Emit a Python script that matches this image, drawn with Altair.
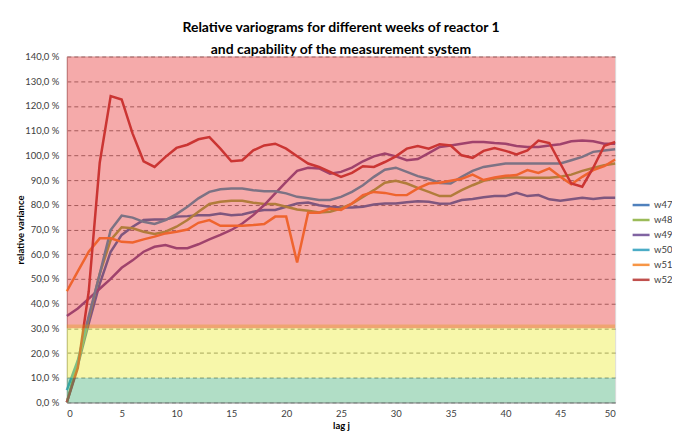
import altair as alt
import pandas as pd

lags = list(range(51))
series_names = ["w47", "w48", "w49", "w50", "w51", "w52"]
series_colors = ["#4F81BD", "#9BBB59", "#8064A2", "#4BACC6", "#F79646", "#C0504D"]

w47 = [0, 15, 32, 48, 61, 67.8, 71.1, 73.8, 74, 74,
       75.2, 75.4, 75.8, 75.8, 76.5, 75.8, 76.1, 77.2, 77.9, 77.9,
       79.2, 80.5, 80.9, 79.8, 79.2, 78.9, 78.9, 79.2, 80.1, 80.5,
       80.5, 81.0, 81.4, 81.2, 80.4, 80.5, 81.9, 82.3, 83.0, 83.5,
       83.5, 84.8, 83.5, 83.9, 82.2, 81.6, 82.2, 82.8, 82.3, 82.8, 82.8]
w48 = [0, 16, 34, 52, 65.8, 70.9, 70.5, 69.1, 68.2, 69.1,
       71.1, 73.8, 77.2, 80.3, 81.2, 81.6, 81.6, 80.8, 80.3, 80.3,
       79.2, 78.1, 77.6, 76.9, 77.2, 78.5, 80.5, 83.2, 85.9, 88.9,
       89.7, 88.6, 86.8, 85.2, 83.5, 83.5, 85.9, 87.9, 89.7, 90.6,
       91.0, 91.0, 90.9, 90.9, 90.9, 91.3, 92.2, 93.7, 94.9, 96.0, 96.7]
w49 = [35, 38, 42, 46, 50, 54.5, 57.5, 61, 63, 63.7,
       62.4, 62.4, 64, 66, 67.8, 69.8, 72.4, 75.8, 79.9, 84.6,
       89.3, 93.7, 95, 94.7, 92.6, 93.3, 95, 97.6, 99.6, 100.7,
       99.6, 98, 98.5, 100.9, 103.4, 104, 104.7, 105.4, 105.4, 105,
       104.7, 103.8, 103.4, 103.4, 104, 104.5, 105.7, 106, 105.7, 104.7, 104.7]
w50 = [5, 17, 35, 52, 69.8, 75.6, 74.8, 73.1, 72.2, 73.8,
       76.2, 79.2, 82.6, 85.2, 86.3, 86.6, 86.6, 85.9, 85.5, 85.5,
       84.6, 83.2, 82.6, 81.9, 81.9, 83.2, 85.2, 87.9, 91.3, 94.2,
       95, 93.3, 91.6, 90.4, 88.8, 88.6, 91.3, 93.7, 95.3, 96,
       96.7, 96.7, 96.7, 96.7, 96.7, 96.7, 98, 99.4, 101.4, 102, 102.5]
w51 = [45, 53, 61, 66.4, 66.4, 65, 64.7, 66, 67.1, 68.4,
       69.1, 70, 72.7, 73.8, 71.5, 71.5, 71.5, 71.8, 72.2, 75.2,
       75.2, 56.6, 76.8, 76.8, 78.5, 77.9, 80.5, 83.9, 85.2, 84.8,
       83.9, 83.9, 86.6, 88.6, 88.9, 89.7, 90.5, 92.2, 90, 91,
       91.7, 92, 94, 92.9, 94.7, 91.3, 88.3, 91.3, 94, 95.6, 98.3]
w52 = [0, 14, 45, 97, 124, 122.6, 108.8, 97.6, 95.3, 99.4,
       103, 104.3, 106.5, 107.4, 102.7, 97.6, 98, 102, 104, 104.7,
       102.7, 99.6, 96.7, 95.3, 93.3, 91.3, 92.9, 95.6, 95.3, 97.3,
       99.6, 102.7, 103.8, 102.7, 104.5, 104, 100, 99, 101.8, 103,
       101.8, 100.4, 102, 106, 105, 96.7, 88.6, 87.3, 95, 103.8, 105.4]

# capability zones of the measurement system (relative variance, %)
band_lo = [0, 10, 30]
band_hi = [10, 31.5, 140]
band_colors = ["#149B55", "#E6E600", "#E10000"]

y_ticks = list(range(0, 141, 10))
x_ticks = list(range(0, 51, 5))

rows = []
for name, vals in zip(series_names, [w47, w48, w49, w50, w51, w52]):
    for j, v in zip(lags, vals):
        rows.append({"lag": j, "value": v, "series": name})
df = pd.DataFrame(rows)

FONT = "Lato"
x_scale = alt.Scale(domain=[0, 50], nice=False, zero=False)
y_scale = alt.Scale(domain=[0, 140], nice=False)

x_axis = alt.Axis(values=x_ticks, title="lag j", grid=False, ticks=False,
                  labelPadding=6, labelFontSize=9.5, labelColor="#404040",
                  labelFont=FONT, labelOverlap=False, titleFont=FONT,
                  titleFontSize=9.5, titleFontWeight="bold",
                  titleX=275, titleY=23, titleBaseline="middle",
                  titleColor="#000000", domainColor="#808080")
y_axis = alt.Axis(values=y_ticks, title="relative variance",
                  labelExpr="replace(format(datum.value, '.1f'), '.', ',') + ' %'",
                  labelOverlap=False,
                  gridDash=[4, 3], gridColor="#7a7a7a", gridOpacity=0.9,
                  ticks=False, labelPadding=8, labelFontSize=9.5,
                  labelColor="#404040", labelFont=FONT, titleFont=FONT,
                  titleFontSize=9.5, titleFontWeight="bold",
                  titleX=-46, titleY=173.5, titleAngle=270,
                  titleAlign="center", titleBaseline="middle",
                  titleColor="#000000", domainColor="#b0b0b0")

lines = alt.Chart(df).mark_line(strokeWidth=2.5).encode(
    x=alt.X("lag:Q", scale=x_scale, axis=x_axis),
    y=alt.Y("value:Q", scale=y_scale, axis=y_axis),
    color=alt.Color("series:N",
                    scale=alt.Scale(domain=series_names, range=series_colors),
                    legend=alt.Legend(title=None, orient="none", legendX=566, legendY=139,
                                      symbolType="stroke", symbolSize=289,
                                      symbolStrokeWidth=2.5, labelFontSize=9.5,
                                      labelFont=FONT, labelColor="#404040",
                                      rowPadding=0, labelOffset=3, padding=0)),
)

layers = [lines]
for lo, hi, col in zip(band_lo, band_hi, band_colors):
    bdf = pd.DataFrame({"x0": [0], "x1": [50], "lo": [lo], "hi": [hi]})
    layers.append(
        alt.Chart(bdf).mark_rect(color=col, opacity=0.333).encode(
            x=alt.X("x0:Q", scale=x_scale, axis=x_axis),
            x2="x1:Q",
            y=alt.Y("lo:Q", scale=y_scale, axis=y_axis),
            y2="hi:Q",
        )
    )

chart = alt.layer(*layers).properties(
    width=550,
    height=347,
    autosize=alt.AutoSizeParams(type="none"),
    padding={"left": 59, "top": 48, "right": 57, "bottom": 28},
    title=alt.Title(["Relative variograms for different weeks  of reactor 1",
                     "and capability of the measurement system"],
                    font=FONT, fontSize=14, fontWeight="bold", anchor="middle",
                    offset=3, dy=9, lineHeight=23, color="#000000"),
).configure_view(stroke="#8a8a8a", strokeWidth=1).configure(background="white")

chart.save("out.html", embed_options={"renderer": "svg", "actions": False})
